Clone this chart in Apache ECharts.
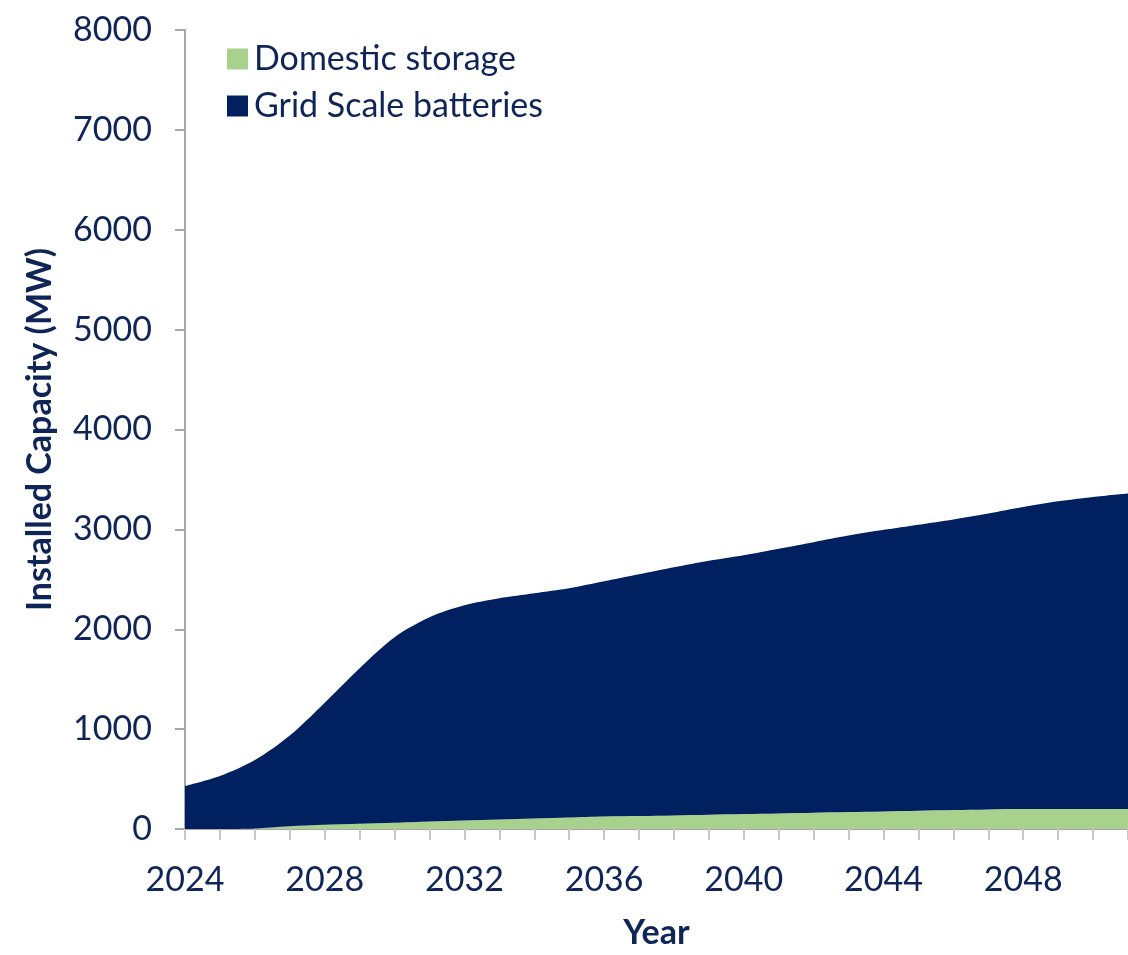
<!DOCTYPE html>
<html>
<head>
    <meta charset="utf-8">
    <title> Installed Capacity </title>
    <script src="https://cdn.jsdelivr.net/npm/echarts@6/dist/echarts.min.js"></script>
    <style>
        html, body {margin: 0; padding: 0; background: #fff;}
        #chart {width: 1128px; height: 955px;}
    </style>
</head>
<body>
<div id='chart'></div>
<script type='text/javascript'>
// values (MW)
var years = ['2024', '2025', '2026', '2027', '2028', '2029', '2030', '2031', '2032', '2033', '2034', '2035', '2036', '2037',
             '2038', '2039', '2040', '2041', '2042', '2043', '2044', '2045', '2046', '2047', '2048', '2049', '2050', '2051'];
var domestic = [0, 0, 5, 28, 43, 53, 63, 76, 86, 96, 106, 116, 126, 130,
                136, 142, 149, 156, 162, 169, 176, 182, 189, 196, 199, 199, 200, 200];
var gridScale = [430, 530, 685, 908, 1222, 1557, 1857, 2044, 2154, 2214, 2254, 2294, 2354, 2420,
                 2484, 2543, 2591, 2650, 2710, 2769, 2819, 2865, 2911, 2964, 3026, 3082, 3125, 3160];
var seriesNames = ['Domestic storage', 'Grid Scale batteries'];
var yTicks = [0, 1000, 2000, 3000, 4000, 5000, 6000, 7000, 8000];

var navy = '#002060';
var txt = '#0f2557';
var axisGray = '#a6a6a6';

var myChart = echarts.init(document.getElementById('chart'));
var option = {
    animation: false,
    textStyle: {fontFamily: 'Lato'},
    legend: {
        orient: 'vertical',
        left: 222, top: 34,
        icon: 'rect',
        itemWidth: 21, itemHeight: 21,
        itemGap: 7,
        textStyle: {fontSize: 34, color: txt, lineHeight: 40, padding: [0, 0, 0, 1]},
        data: seriesNames
    },
    grid: {left: 185, top: 30, width: 950, height: 802, containLabel: false},
    xAxis: {
        type: 'category',
        data: years,
        boundaryGap: false,
        name: 'Year',
        nameLocation: 'middle',
        nameGap: 87,
        nameTextStyle: {fontSize: 34, fontWeight: 'bold', color: txt, verticalAlign: 'top'},
        axisLine: {show: true, lineStyle: {color: axisGray, width: 2}},
        axisTick: {show: true, interval: 0, length: 11, lineStyle: {color: '#c8c8c8', width: 2}},
        splitLine: {show: false},
        axisLabel: {margin: 34, fontSize: 34, color: txt, interval: 3}
    },
    yAxis: {
        type: 'value',
        min: yTicks[0], max: yTicks[yTicks.length - 1],
        interval: 1000,
        name: 'Installed Capacity (MW)',
        nameLocation: 'middle',
        nameGap: 128,
        nameRotate: 90,
        nameTextStyle: {fontSize: 34, fontWeight: 'bold', color: txt},
        axisLine: {show: true, lineStyle: {color: axisGray, width: 2}},
        axisTick: {show: true, length: 10, lineStyle: {color: axisGray, width: 2}},
        splitLine: {show: false},
        axisLabel: {margin: 33, fontSize: 34, color: txt, formatter: function (v) { return String(v); }}
    },
    series: [
        {
            name: seriesNames[0], type: 'line', stack: 'cap',
            data: domestic, smooth: 0.3, showSymbol: false,
            lineStyle: {width: 0}, itemStyle: {color: '#a9d18e'},
            areaStyle: {color: '#a9d18e', opacity: 1}
        },
        {
            name: seriesNames[1], type: 'line', stack: 'cap',
            data: gridScale, smooth: 0.3, showSymbol: false,
            lineStyle: {width: 0}, itemStyle: {color: navy},
            areaStyle: {color: navy, opacity: 1}
        }
    ]
};
myChart.setOption(option);
</script>
</body>
</html>
